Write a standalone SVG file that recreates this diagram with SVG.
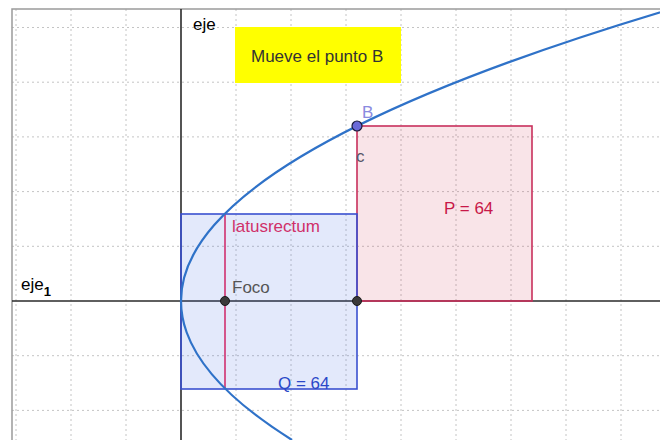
<svg xmlns="http://www.w3.org/2000/svg" width="660" height="440" viewBox="0 0 660 440">
<style>
.grid{stroke:#c4c4c4;stroke-width:1;stroke-dasharray:2,3;fill:none}
.axis{stroke:#2a2a2a;stroke-width:1.6;fill:none}
.frame{stroke:#9a9a9a;stroke-width:1.5;fill:none}
text{font-family:"Liberation Sans",Arial,sans-serif;font-size:17px}
.pt{fill:#3a3a3a;stroke:#1a1a1a;stroke-width:1}
</style>
<rect x="0" y="0" width="660" height="440" fill="#ffffff"/>
<g id="grid" class="grid">
<path d="M16 9V440M71 9V440M126 9V440M236 9V440M291 9V440M346 9V440M401 9V440M456 9V440M511 9V440M566 9V440M621 9V440"/>
<path d="M12 27.5H660M12 82.2H660M12 136.9H660M12 191.6H660M12 246.3H660M12 355.7H660M12 410.4H660"/>
</g>
<g id="frame" class="frame">
<path d="M12 440V9H660"/>
</g>
<g id="axes" class="axis">
<path d="M12 301H660"/>
<path d="M181 9V440"/>
</g>
<g id="rectP">
<rect x="357" y="126" width="175" height="175" fill="#d03050" fill-opacity="0.13" stroke="#c8305c" stroke-width="1.6"/>
<text x="444" y="214" fill="#c81848">P = 64</text>
</g>
<g id="rectQ">
<rect x="181" y="214" width="176" height="175" fill="#3c64e0" fill-opacity="0.14" stroke="#3a50d0" stroke-width="1.6"/>
<text x="278" y="389" fill="#2a48c8">Q = 64</text>
</g>
<g id="latusrectum">
<path d="M225 214V389" stroke="#d03070" stroke-width="1.6"/>
<text x="232" y="232" fill="#d0306a" font-size="18">latusrectum</text>
</g>
<g id="parabola">
<path d="M292.04 440Q-51.47 225 667.67 10" fill="none" stroke="#2f72c8" stroke-width="2.2"/>
</g>
<g id="labels">
<text x="193" y="30" font-size="18">eje</text>
<text x="21" y="290" font-size="18">eje<tspan font-size="13" font-weight="bold" dy="6">1</tspan></text>
</g>
<g id="note">
<rect x="235" y="27" width="166" height="56" fill="#ffff00"/>
<text x="251" y="62" fill="#333333">Mueve el punto B</text>
</g>
<g id="foco">
<circle class="pt" cx="225" cy="301" r="4.5"/>
<text x="232" y="293" fill="#555555">Foco</text>
</g>
<g id="pointC">
<circle class="pt" cx="357" cy="301" r="4.5"/>
</g>
<g id="pointB">
<circle cx="357" cy="126" r="5" fill="#6a6ad8" stroke="#1a1a3a" stroke-width="1.2"/>
<text x="362" y="118" fill="#8a8ae0" font-size="16">B</text>
<text x="356" y="162" fill="#555566" font-size="16">c</text>
</g>
</svg>
